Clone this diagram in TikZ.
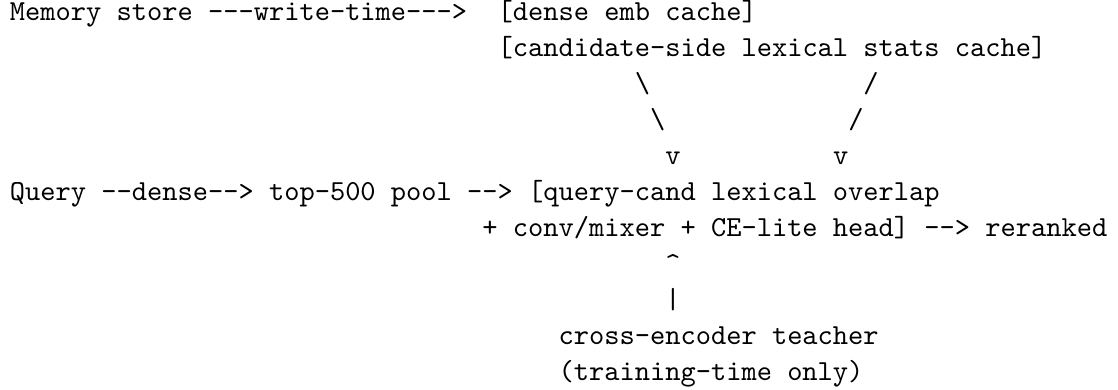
\documentclass[tikz,border=0pt]{standalone}
\usepackage{tikz}

\tikzset{
    txt/.style={font=\ttfamily, anchor=base west, inner sep=0pt, outer sep=0pt}
}

\begin{document}
\begin{tikzpicture}[x=5.25pt, y=-12.4pt]
                    \useasboundingbox (-0.655,-0.583) rectangle (72.7,10.25);

                    \node[txt] (mem) at (0,0) {Memory store ---write-time--->};
                    \node[txt] (emb) at (32,0) {[dense emb cache]};
                    \node[txt] (stats) at (32,1) {[candidate-side lexical stats cache]};

                    \node[txt] (la) at (41,2) {\textbackslash};
                    \node[txt] (ra) at (56,2) {/};
                    \node[txt] (lb) at (42,3) {\textbackslash};
                    \node[txt] (rb) at (55,3) {/};
                    \node[txt] (lv) at (43,4) {v};
                    \node[txt] (rv) at (54,4) {v};

                    \node[txt] (query) at (0,5) {Query --dense--> top-500 pool -->};
                    \node[txt] (head) at (34,5) {[query-cand lexical overlap};
                    \node[txt] (mixer) at (31,6) {+ conv/mixer + CE-lite head] --> reranked};

                    \node[txt] (up) at (43,7) {\textasciicircum};
                    \node[txt] (bar) at (43,8) {|};
                    \node[txt] (teacher) at (36,9) {cross-encoder teacher};
                    \node[txt] (only) at (36,10) {(training-time only)};
                \end{tikzpicture}
\end{document}
